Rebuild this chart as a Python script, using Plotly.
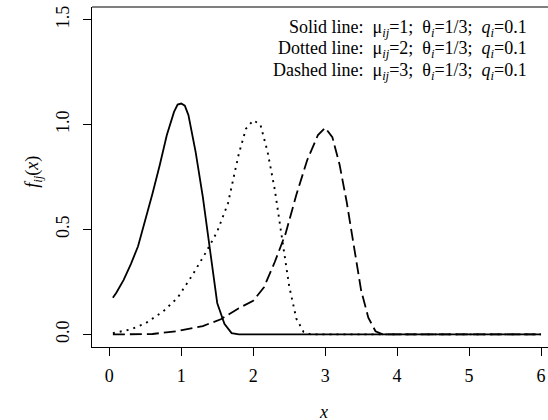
import plotly.graph_objects as go

# Solid line: mu=1
x_solid = [0.05, 0.1, 0.2, 0.3, 0.4, 0.5, 0.6, 0.7, 0.8, 0.9, 0.95, 1.0, 1.05, 1.1, 1.2, 1.3, 1.4, 1.5, 1.6, 1.7, 1.8, 6.0]
y_solid = [0.175, 0.20, 0.26, 0.335, 0.42, 0.54, 0.67, 0.805, 0.95, 1.06, 1.095, 1.10, 1.09, 1.045, 0.87, 0.655, 0.39, 0.15, 0.05, 0.006, 0.0, 0.0]

# Dotted line: mu=2
x_dotted = [0.05, 0.3, 0.5, 0.75, 0.95, 1.15, 1.35, 1.5, 1.65, 1.8, 1.9, 2.0, 2.1, 2.2, 2.3, 2.4, 2.5, 2.6, 2.7, 2.8, 6.0]
y_dotted = [0.006, 0.024, 0.052, 0.11, 0.175, 0.28, 0.395, 0.49, 0.625, 0.86, 0.98, 1.02, 1.0, 0.87, 0.69, 0.45, 0.23, 0.075, 0.012, 0.0, 0.0]

# Dashed line: mu=3
x_dashed = [0.05, 0.6, 0.95, 1.3, 1.55, 1.8, 2.0, 2.15, 2.3, 2.45, 2.6, 2.75, 2.9, 3.0, 3.1, 3.2, 3.3, 3.4, 3.5, 3.6, 3.7, 3.8, 6.0]
y_dashed = [0.0, 0.002, 0.016, 0.04, 0.072, 0.125, 0.16, 0.225, 0.345, 0.48, 0.665, 0.83, 0.95, 0.985, 0.94, 0.81, 0.63, 0.41, 0.21, 0.08, 0.015, 0.0, 0.0]

x_ticks = [0, 1, 2, 3, 4, 5, 6]
y_ticks = [0.0, 0.5, 1.0, 1.5]
y_tick_labels = ["0.0", "0.5", "1.0", "1.5"]

SP = "\u2002"
legend_lines = [
    f"Solid line:{SP}μ<sub><i>ij</i></sub>=1;{SP}θ<sub><i>i</i></sub>=1/3;{SP}<i>q</i><sub><i>i</i></sub>=0.1",
    f"Dotted line:{SP}μ<sub><i>ij</i></sub>=2;{SP}θ<sub><i>i</i></sub>=1/3;{SP}<i>q</i><sub><i>i</i></sub>=0.1",
    f"Dashed line:{SP}μ<sub><i>ij</i></sub>=3;{SP}θ<sub><i>i</i></sub>=1/3;{SP}<i>q</i><sub><i>i</i></sub>=0.1",
]

FONT = "Liberation Serif, Times New Roman, serif"

fig = go.Figure()
fig.add_trace(go.Scatter(x=x_solid, y=y_solid, mode="lines",
                         line=dict(color="black", width=1.8, dash="solid"), showlegend=False))
fig.add_trace(go.Scatter(x=x_dotted, y=y_dotted, mode="lines",
                         line=dict(color="black", width=1.9, dash="2px,5px"), showlegend=False))
fig.add_trace(go.Scatter(x=x_dashed, y=y_dashed, mode="lines",
                         line=dict(color="black", width=1.8, dash="12px,5px"), showlegend=False))

legend_y = [0.937, 0.874, 0.811]
for txt, yy in zip(legend_lines, legend_y):
    fig.add_annotation(text=txt, xref="paper", yref="paper", x=0.958, y=yy,
                       xanchor="right", yanchor="middle", showarrow=False,
                       font=dict(family=FONT, size=18, color="black"))

# axis titles
fig.add_annotation(text="<i>x</i>", xref="paper", yref="paper", x=0.5066, y=-0.192,
                   xanchor="center", yanchor="middle", showarrow=False,
                   font=dict(family=FONT, size=18, color="black"))
fig.add_annotation(text="<i>f</i><sub><i>ij</i></sub>(<i>x</i>)", xref="paper", yref="paper",
                   x=-0.128, y=0.514, textangle=-90, xanchor="center", yanchor="middle",
                   showarrow=False, font=dict(family=FONT, size=18, color="black"))

fig.add_shape(type="line", xref="paper", yref="paper", x0=0, x1=1, y0=1, y1=1,
              line=dict(color="black", width=1))

fig.update_layout(
    width=548, height=420,
    margin=dict(l=92, r=0, t=7, b=73),
    plot_bgcolor="white", paper_bgcolor="white",
    font=dict(family=FONT, size=18, color="black"),
    xaxis=dict(range=[-0.24, 6.097], tickvals=x_ticks, ticks="outside", ticklen=8,
               tickwidth=1, tickcolor="black", showline=True, linecolor="black", linewidth=1,
               showgrid=False, zeroline=False, mirror=False, automargin=False,
               tickfont=dict(family=FONT, size=18), ticklabelstandoff=4),
    yaxis=dict(range=[-0.06, 1.56], tickvals=y_ticks, ticktext=y_tick_labels, tickangle=-90,
               ticks="outside", ticklen=8, tickwidth=1, tickcolor="black", showline=True,
               linecolor="black", linewidth=1, showgrid=False, zeroline=False, mirror=False,
               automargin=False, tickfont=dict(family=FONT, size=18), ticklabelstandoff=7),
)

fig.write_html("out.html", config={"displayModeBar": False},
               post_script="document.body.style.margin='0';document.body.style.overflow='hidden';")
